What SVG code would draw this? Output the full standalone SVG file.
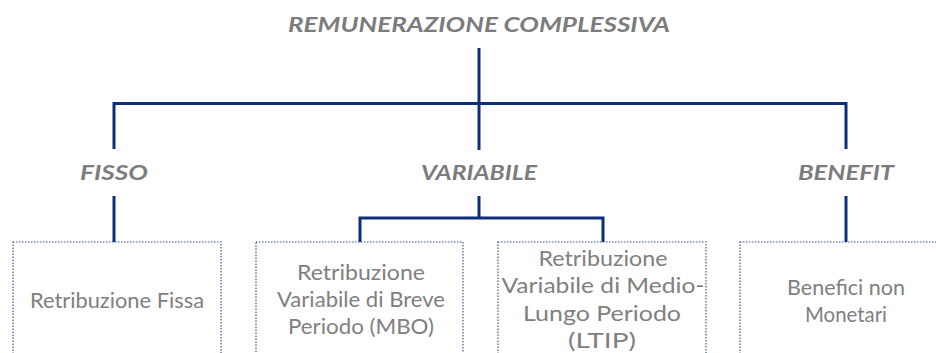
<svg xmlns="http://www.w3.org/2000/svg" width="936" height="353" viewBox="0 0 936 353">
<style>
.h{font-family:Lato,"Open Sans","Liberation Sans",sans-serif;font-weight:bold;font-style:italic;font-size:20px;fill:#7c7c7c;text-anchor:middle}
.t{font-family:Lato,"Open Sans","Liberation Sans",sans-serif;font-size:22px;fill:#808080;text-anchor:middle}
.box{fill:#fff;stroke:#3f5590;stroke-width:1.2;stroke-dasharray:1.5 1.5}
.c{fill:none;stroke:#0d2f7a;stroke-width:3;stroke-linecap:butt;stroke-linejoin:miter}
</style>
<rect width="936" height="353" fill="#fff"/>
<g id="connectors">
<path class="c" d="M479 48V150"/>
<path class="c" d="M114 149V103.5H846V149"/>
<path class="c" d="M114 196V242"/>
<path class="c" d="M479 196V218"/>
<path class="c" d="M360 242V218H603V242"/>
<path class="c" d="M846 196V242"/>
</g>
<g id="root"><text class="h" x="479" y="32" textLength="382" lengthAdjust="spacingAndGlyphs">REMUNERAZIONE COMPLESSIVA</text></g>
<g id="fisso"><text class="h" x="114" y="180" textLength="68" lengthAdjust="spacingAndGlyphs">FISSO</text></g>
<g id="variabile"><text class="h" x="479" y="180" textLength="116" lengthAdjust="spacingAndGlyphs">VARIABILE</text></g>
<g id="benefit"><text class="h" x="846" y="180" textLength="96" lengthAdjust="spacingAndGlyphs">BENEFIT</text></g>
<g id="box-fissa"><rect class="box" x="13" y="242" width="208" height="130"/>
<text class="t" x="117" y="308" textLength="174" lengthAdjust="spacingAndGlyphs">Retribuzione Fissa</text></g>
<g id="box-mbo"><rect class="box" x="256" y="242" width="207" height="130"/>
<text class="t" x="361" y="280" textLength="128" lengthAdjust="spacingAndGlyphs">Retribuzione</text>
<text class="t" x="361" y="307" textLength="168" lengthAdjust="spacingAndGlyphs">Variabile di Breve</text>
<text class="t" x="361" y="334" textLength="146" lengthAdjust="spacingAndGlyphs">Periodo (MBO)</text></g>
<g id="box-ltip"><rect class="box" x="498" y="242" width="208" height="130"/>
<text class="t" x="603" y="265.5" textLength="129" lengthAdjust="spacingAndGlyphs">Retribuzione</text>
<text class="t" x="603" y="293" textLength="203" lengthAdjust="spacingAndGlyphs">Variabile di Medio-</text>
<text class="t" x="602" y="320.5" textLength="158" lengthAdjust="spacingAndGlyphs">Lungo Periodo</text>
<text class="t" x="602" y="348" textLength="68" lengthAdjust="spacingAndGlyphs">(LTIP)</text></g>
<g id="box-benefici"><rect class="box" x="740" y="242" width="208" height="130"/>
<text class="t" x="846" y="295" textLength="118" lengthAdjust="spacingAndGlyphs">Benefici non</text>
<text class="t" x="846" y="322" textLength="82" lengthAdjust="spacingAndGlyphs">Monetari</text></g>
</svg>
